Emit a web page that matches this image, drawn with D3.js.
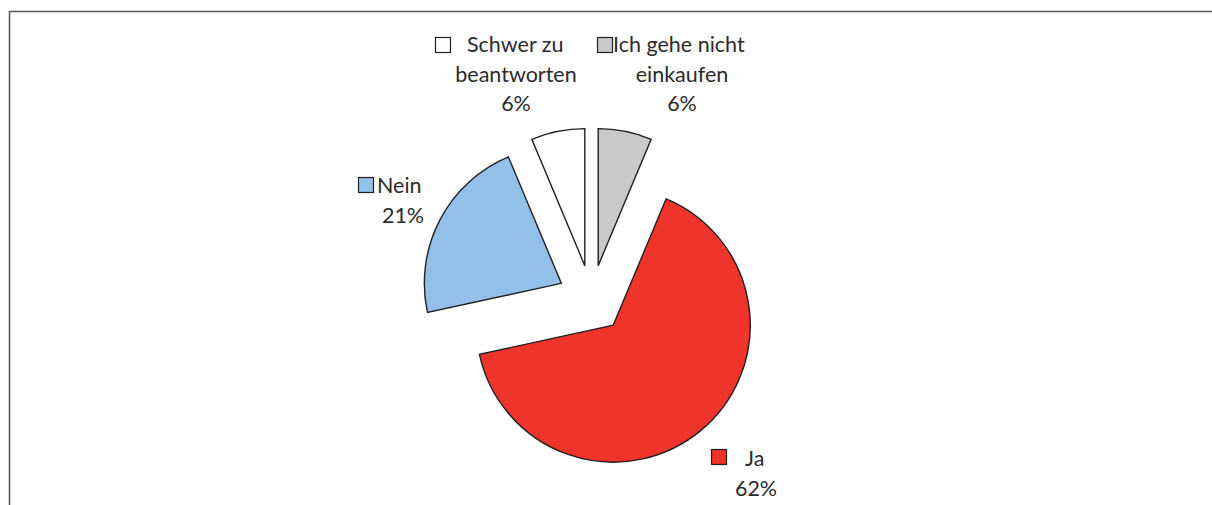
<!DOCTYPE html>
<html>
<head>
<meta charset="utf-8">
<script src="https://cdn.jsdelivr.net/npm/d3@7"></script>
<style>
  body { margin: 0; background: #fff; }
  svg { display: block; }
</style>
</head>
<body>
<svg id="chart"></svg>
<script>
// Pie chart, exploded slices, labels outside.

const categories = ['Ich gehe nicht einkaufen', 'Ja', 'Nein', 'Schwer zu beantworten'];
const values     = [6, 62, 21, 6];
const colors     = ['#c8c9cb', '#ee342b', '#92c0e8', '#ffffff'];

// label lines per category (text as shown in chart)
const labelLines = [
  ['Ich gehe nicht', 'einkaufen', '6%'],
  ['Ja', '62%'],
  ['Nein', '21%'],
  ['Schwer zu', 'beantworten', '6%']
];

const W = 1212, H = 505;
const svg = d3.select('#chart').attr('width', W).attr('height', H);

// frame
svg.append('path')
  .attr('d', `M9.5,${H + 2} L9.5,11.5 L${W + 2},11.5`)
  .attr('fill', 'none')
  .attr('stroke', '#555')
  .attr('stroke-width', 1.5);

const cx = 591.5, cy = 299, R = 137, explode = 34;

const pie = d3.pie().sort(null).value(d => d)(values);
const arc = d3.arc().innerRadius(0).outerRadius(R);

const g = svg.append('g').attr('transform', `translate(${cx},${cy})`);

g.selectAll('path')
  .data(pie)
  .join('path')
  .attr('d', arc)
  .attr('transform', d => {
    const a = (d.startAngle + d.endAngle) / 2;
    return `translate(${Math.sin(a) * explode},${-Math.cos(a) * explode})`;
  })
  .attr('fill', (d, i) => colors[i])
  .attr('stroke', '#231f20')
  .attr('stroke-width', 1.4)
  .attr('stroke-linejoin', 'miter');

// ─── Labels ───────────────────────────────────────────────────────────────────
// center x of text block, first baseline y, legend box spot, first line start x
const labelPos = [
  { x: 682, y: 52, box: [597, 37], x0: 613 },
  { x: 756, y: 466, box: [711, 449], x0: 745 },
  { x: 403, y: 193, box: [358, 177], x0: 377 },
  { x: 516, y: 52, box: [435, 37], x0: 467 }
];
const lineH = 29.5;
const font = 'Lato, "Open Sans", sans-serif';

labelLines.forEach((lines, i) => {
  const p = labelPos[i];
  const lg = svg.append('g');
  lg.append('rect')
    .attr('x', p.box[0] + 0.5)
    .attr('y', p.box[1] + 0.5)
    .attr('width', 15)
    .attr('height', 15)
    .attr('fill', colors[i])
    .attr('stroke', '#231f20')
    .attr('stroke-width', 1.2);

  lines.forEach((t, j) => {
    lg.append('text')
      .attr('x', j === 0 ? p.x0 : p.x)
      .attr('y', p.y + j * lineH)
      .attr('text-anchor', j === 0 ? 'start' : 'middle')
      .attr('font-family', font)
      .attr('font-size', 21.5)
      .attr('fill', '#2b2b2b')
      .text(t);
  });
});
</script>
</body>
</html>
